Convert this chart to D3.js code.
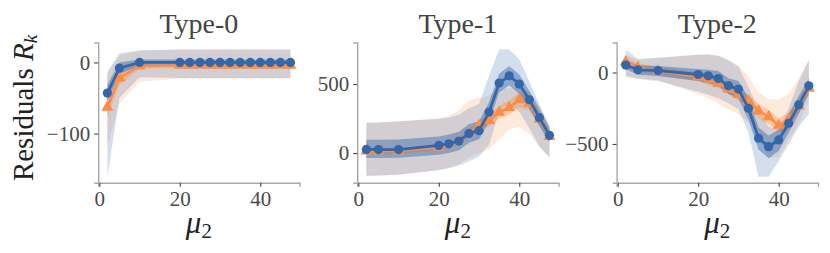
<!DOCTYPE html>
<html>
<head>
<meta charset="utf-8">
<script src="https://cdn.jsdelivr.net/npm/d3@7"></script>
<style>
  html, body { margin: 0; padding: 0; background: #fff; }
  svg { display: block; font-family: "Liberation Serif", "DejaVu Serif", serif; }
</style>
</head>
<body>
<div id="chart"></div>
<script>
// mu_2 values shared by all three panels
const mu2 = [2, 5, 10, 20, 22.5, 25, 27.5, 30, 32.5, 35, 37.5, 40, 42.5, 45, 47.5];
const panelTitles = ['Type-0', 'Type-1', 'Type-2'];
const xTicks = [0, 20, 40];
const yTicks = [[0, -100], [0, 500], [0, -500]];

// Type-0
const t0BlueMean    = [-43, -8, 0, 0, 0, 0, 0, 0, 0, 0, 0, 0, 0, 0, 0];
const t0BlueInLo    = [-55, -16, -5, -5, -5, -5, -5, -5, -5, -5, -5, -5, -5, -5, -5];
const t0BlueInHi    = [-31, 0, 4, 4, 4, 4, 4, 4, 4, 4, 4, 4, 4, 4, 4];
const t0BlueOutLo   = [-162, -50, -21, -22, -22, -22, -22, -22, -22, -22, -22, -22, -22, -22, -22];
const t0BlueOutHi   = [-13, 13, 17, 18, 18, 18, 18, 18, 18, 18, 18, 18, 18, 18, 18];
const t0OrangeMean  = [-63, -22, -5, -4, -4, -4, -4, -4, -4, -4, -4, -4, -4, -4, -4];
const t0OrangeInLo  = [-76, -32, -9, -8, -8, -8, -8, -8, -8, -8, -8, -8, -8, -8, -8];
const t0OrangeInHi  = [-50, -12, -1, 0, 0, 0, 0, 0, 0, 0, 0, 0, 0, 0, 0];
const t0OrangeOutLo = [-118, -58, -27, -23, -23, -23, -23, -23, -23, -23, -23, -23, -23, -23, -23];
const t0OrangeOutHi = [-15, 10, 16, 18, 18, 18, 18, 18, 18, 18, 18, 18, 18, 18, 18];

// Type-1
const t1BlueMean    = [26, 25, 25, 55, 67, 87, 142, 162, 297, 507, 560, 500, 386, 256, 128];
const t1BlueInLo    = [-36, -36, -34, -12, 0, 20, 75, 100, 225, 440, 490, 430, 320, 195, 75];
const t1BlueInHi    = [96, 96, 98, 120, 135, 155, 210, 230, 370, 575, 630, 570, 450, 320, 185];
const t1BlueOutLo   = [-165, -163, -158, -125, -110, -90, -60, -25, 60, 300, 360, 300, 180, 50, -35];
const t1BlueOutHi   = [220, 222, 228, 248, 258, 278, 325, 355, 560, 750, 750, 680, 520, 350, 195];
const t1OrangeMean  = [15, 15, 15, 40, 60, 90, 140, 200, 235, 295, 330, 385, 360, 245, 120];
const t1OrangeInLo  = [-5, -5, -5, 20, 40, 65, 110, 165, 190, 250, 280, 330, 310, 200, 85];
const t1OrangeInHi  = [35, 35, 35, 60, 80, 115, 170, 235, 280, 340, 380, 440, 410, 290, 155];
const t1OrangeOutLo = [-165, -163, -158, -122, -105, -80, -35, 0, 30, 100, 170, 190, 140, 45, -30];
const t1OrangeOutHi = [220, 222, 230, 250, 270, 310, 380, 400, 415, 460, 470, 470, 450, 350, 195];

// Type-2
const t2BlueMean    = [52, 19, 14, -14, -23, -42, -93, -116, -250, -460, -519, -472, -355, -226, -93];
const t2BlueInLo    = [22, -15, -25, -60, -75, -95, -150, -180, -330, -540, -600, -550, -420, -290, -150];
const t2BlueInHi    = [85, 50, 45, 25, 20, 10, -40, -60, -175, -385, -440, -400, -290, -165, -40];
const t2BlueOutLo   = [-30, -45, -60, -135, -155, -180, -215, -255, -420, -730, -730, -620, -500, -380, -290];
const t2BlueOutHi   = [160, 95, 105, 125, 125, 115, 90, 40, -100, -260, -380, -400, -250, -60, 85];
const t2OrangeMean  = [75, 35, 10, -30, -50, -75, -115, -155, -200, -270, -310, -370, -330, -235, -110];
const t2OrangeInLo  = [45, 5, -20, -60, -85, -110, -150, -195, -245, -320, -360, -420, -380, -280, -150];
const t2OrangeInHi  = [105, 65, 40, 0, -15, -40, -80, -115, -155, -220, -260, -320, -280, -190, -70];
const t2OrangeOutLo = [-20, -40, -55, -150, -180, -215, -260, -290, -350, -450, -600, -590, -470, -355, -190];
const t2OrangeOutHi = [120, 90, 100, 125, 130, 120, 80, 50, -30, -140, -185, -190, -145, -40, 90];

const panels = [
  { blue: [t0BlueMean, t0BlueInLo, t0BlueInHi, t0BlueOutLo, t0BlueOutHi],
    orange: [t0OrangeMean, t0OrangeInLo, t0OrangeInHi, t0OrangeOutLo, t0OrangeOutHi],
    yDomain: [-169, 28] },
  { blue: [t1BlueMean, t1BlueInLo, t1BlueInHi, t1BlueOutLo, t1BlueOutHi],
    orange: [t1OrangeMean, t1OrangeInLo, t1OrangeInHi, t1OrangeOutLo, t1OrangeOutHi],
    yDomain: [-215, 801] },
  { blue: [t2BlueMean, t2BlueInLo, t2BlueInHi, t2BlueOutLo, t2BlueOutHi],
    orange: [t2OrangeMean, t2OrangeInLo, t2OrangeInHi, t2OrangeOutLo, t2OrangeOutHi],
    yDomain: [-771, 210] }
];

const width = 830, height = 253;
const blue = '#3466aa', orange = '#fb8d45';
const panelLeft = [98.2, 357.2, 616.6];
const panelW = 201.4, plotTop = 42.5, plotBottom = 182.7;

const svg = d3.select('#chart').append('svg')
  .attr('width', width).attr('height', height);

panels.forEach((p, i) => {
  const x = d3.scaleLinear().domain([-0.275, 49.775]).range([panelLeft[i], panelLeft[i] + panelW]);
  const y = d3.scaleLinear().domain(p.yDomain).range([plotBottom, plotTop]);
  const g = svg.append('g');

  const band = (lo, hi) => d3.area()
    .x((d, k) => x(mu2[k]))
    .y0((d, k) => y(lo[k]))
    .y1((d, k) => y(hi[k]))(mu2);
  const line = vals => d3.line().x((d, k) => x(mu2[k])).y((d, k) => y(vals[k]))(mu2);

  // outer bands, then inner bands
  g.append('path').attr('d', band(p.orange[3], p.orange[4])).attr('fill', orange).attr('fill-opacity', 0.19);
  g.append('path').attr('d', band(p.blue[3], p.blue[4])).attr('fill', blue).attr('fill-opacity', 0.21);
  g.append('path').attr('d', band(p.orange[1], p.orange[2])).attr('fill', orange).attr('fill-opacity', 0.35);
  g.append('path').attr('d', band(p.blue[1], p.blue[2])).attr('fill', blue).attr('fill-opacity', 0.45);

  // orange series (triangles)
  g.append('path').attr('d', line(p.orange[0])).attr('fill', 'none')
    .attr('stroke', orange).attr('stroke-width', 2.5);
  g.selectAll('.tri').data(mu2).enter().append('path')
    .attr('d', d3.symbol().type(d3.symbolTriangle).size(62))
    .attr('transform', (d, k) => `translate(${x(d)},${y(p.orange[0][k])})`)
    .attr('fill', orange);

  // blue series (circles)
  g.append('path').attr('d', line(p.blue[0])).attr('fill', 'none')
    .attr('stroke', blue).attr('stroke-width', 2.8);
  g.selectAll('.dot').data(mu2).enter().append('circle')
    .attr('cx', d => x(d))
    .attr('cy', (d, k) => y(p.blue[0][k]))
    .attr('r', 4.6)
    .attr('fill', blue);

  // axes
  const xAxis = g.append('g').attr('transform', `translate(0,${plotBottom})`)
    .call(d3.axisBottom(x).tickValues(xTicks).tickSize(4).tickPadding(5).tickFormat(d3.format('d')));
  const yAxis = g.append('g').attr('transform', `translate(${panelLeft[i]},0)`)
    .call(d3.axisLeft(y).tickValues(yTicks[i]).tickSize(4).tickPadding(4)
      .tickFormat(d => d < 0 ? '\u2212' + Math.abs(d) : d));
  [xAxis, yAxis].forEach(a => {
    a.select('.domain').attr('stroke', '#a8a8a8').attr('stroke-width', 1.4);
    a.selectAll('.tick line').attr('stroke', '#444').attr('stroke-width', 1.1);
    a.selectAll('.tick text').attr('fill', '#4a4a4a').style('font-size', '21px')
      .style('font-family', '"Liberation Serif", serif');
  });
  xAxis.selectAll('.tick text').attr('dy', '0.7em');

  // title
  svg.append('text')
    .attr('x', panelLeft[i] + panelW / 2).attr('y', 33)
    .attr('text-anchor', 'middle')
    .attr('fill', '#444')
    .style('font-size', '28px')
    .text(panelTitles[i]);

  // x label
  const xl = svg.append('text')
    .attr('x', panelLeft[i] + panelW / 2).attr('y', 233)
    .attr('text-anchor', 'middle')
    .attr('fill', '#222')
    .style('font-size', '31px');
  xl.append('tspan').style('font-style', 'italic').text('\u03bc');
  xl.append('tspan').attr('dy', 5).style('font-size', '21px').text('2');
});

// y label
const yl = svg.append('text')
  .attr('transform', 'translate(33,108) rotate(-90)')
  .attr('text-anchor', 'middle')
  .attr('fill', '#222')
  .style('font-size', '29px');
yl.append('tspan').text('Residuals ');
yl.append('tspan').style('font-style', 'italic').text('R');
yl.append('tspan').attr('dy', 4).style('font-style', 'italic').style('font-size', '19px').text('k');
</script>
</body>
</html>
